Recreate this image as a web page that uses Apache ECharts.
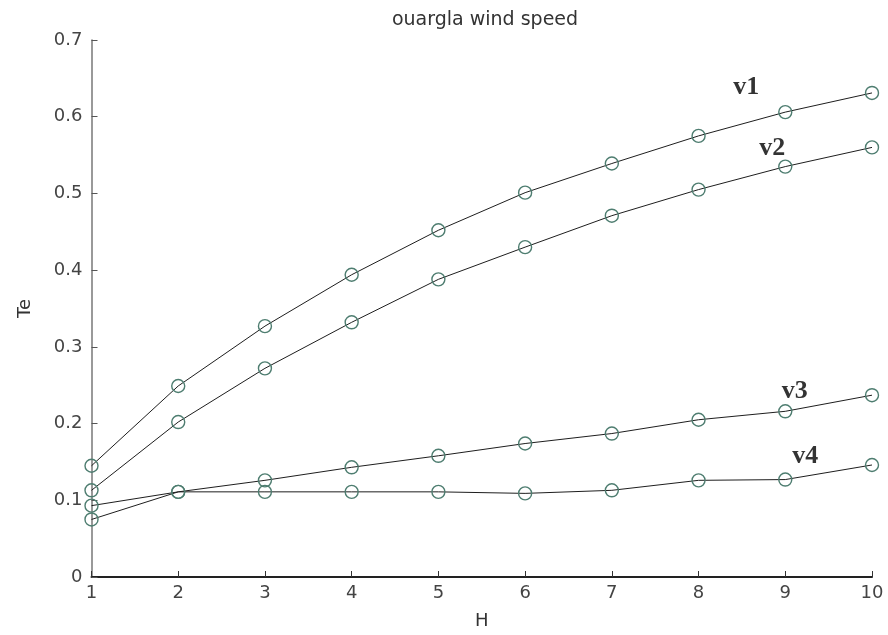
<!DOCTYPE html>
<html>
<head>
<meta charset="utf-8">
<script src="https://cdn.jsdelivr.net/npm/echarts@6/dist/echarts.min.js"></script>
<style>
  html, body { margin: 0; padding: 0; background: #fff; }
  #chart { width: 888px; height: 635px; }
</style>
</head>
<body>
<div id="chart"></div>
<script>
// Heights H = 1..10
const heights = [1, 2, 3, 4, 5, 6, 7, 8, 9, 10];
// Te for each wind speed
const v1 = [0.145, 0.249, 0.327, 0.394, 0.452, 0.501, 0.539, 0.575, 0.606, 0.631];
const v2 = [0.113, 0.202, 0.272, 0.332, 0.388, 0.430, 0.471, 0.505, 0.535, 0.560];
const v3 = [0.093, 0.111, 0.126, 0.143, 0.158, 0.174, 0.187, 0.205, 0.216, 0.237];
const v4 = [0.075, 0.111, 0.111, 0.111, 0.111, 0.109, 0.113, 0.126, 0.127, 0.146];
const seriesNames = ['v1', 'v2', 'v3', 'v4'];
const yTicks = ['0', '0.1', '0.2', '0.3', '0.4', '0.5', '0.6', '0.7'];

// where each curve's name sits, in data coordinates
const namePos = [[8.55, 0.638], [8.85, 0.559], [9.11, 0.242], [9.23, 0.157]];

const chart = echarts.init(document.getElementById('chart'));
const all = [v1, v2, v3, v4];

const series = all.map((vals, i) => ({
  name: seriesNames[i],
  type: 'line',
  data: heights.map((h, k) => [h, vals[k]]),
  symbol: 'circle',
  symbolSize: 13,
  showAllSymbol: true,
  lineStyle: { color: '#1e1e1e', width: 1 },
  itemStyle: { color: 'rgba(255,255,255,0)', borderColor: '#4e7d70', borderWidth: 1.4 },
  emphasis: { disabled: true },
  z: 3
}));

// curve names, placed as text-only scatter points
series.push({
  type: 'scatter',
  data: namePos.map((p, i) => ({ value: p, name: seriesNames[i] })),
  symbol: 'circle',
  symbolSize: 1,
  itemStyle: { color: 'rgba(0,0,0,0)' },
  silent: true,
  label: {
    show: true,
    position: 'inside',
    formatter: (p) => p.name,
    fontFamily: 'Liberation Serif',
    fontWeight: 'bold',
    fontSize: 26,
    color: '#000',
    textBorderWidth: 0
  },
  z: 5
});

chart.setOption({
  animation: false,
  title: {
    text: 'ouargla wind speed',
    left: 480,
    top: 6,
    textAlign: 'center',
    textStyle: { fontFamily: 'DejaVu Sans', fontSize: 19, fontWeight: 'normal', color: '#333' }
  },
  grid: { left: 91.5, right: 16, top: 40, bottom: 57 },
  xAxis: {
    type: 'value',
    min: 1,
    max: 10,
    interval: 1,
    name: 'H',
    nameLocation: 'middle',
    nameGap: 35,
    nameTextStyle: { fontFamily: 'DejaVu Sans', fontSize: 18, color: '#333' },
    axisLine: { lineStyle: { color: '#222', width: 2 } },
    axisTick: { inside: true, length: 6, lineStyle: { color: '#333', width: 1 } },
    axisLabel: { fontFamily: 'DejaVu Sans', fontSize: 18, color: '#444', margin: 7 },
    splitLine: { show: false }
  },
  yAxis: {
    type: 'value',
    min: 0,
    max: 0.7,
    interval: 0.1,
    name: 'Te',
    nameLocation: 'middle',
    nameGap: 57,
    nameTextStyle: { fontFamily: 'DejaVu Sans', fontSize: 18, color: '#333' },
    axisLine: { show: true, lineStyle: { color: '#777', width: 1.5 } },
    axisTick: { show: true, inside: true, length: 6, lineStyle: { color: '#555', width: 1 } },
    axisLabel: {
      fontFamily: 'DejaVu Sans',
      fontSize: 18,
      color: '#444',
      margin: 9,
      formatter: (v) => yTicks[Math.round(v * 10)]
    },
    splitLine: { show: false }
  },
  series: series
});
</script>
</body>
</html>
